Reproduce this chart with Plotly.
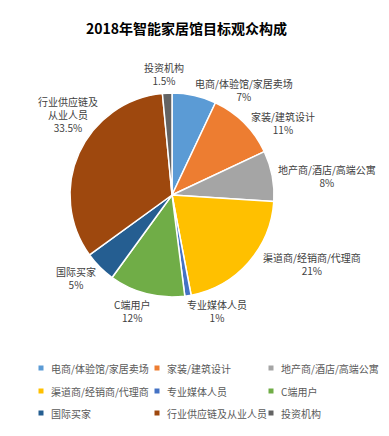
import math
import plotly.graph_objects as go

# Audience composition of the 2018 smart-home hall (percent)
categories = ["电商/体验馆/家居卖场", "家装/建筑设计", "地产商/酒店/高端公寓",
              "渠道商/经销商/代理商", "专业媒体人员", "C端用户",
              "国际买家", "行业供应链及从业人员", "投资机构"]
slice_labels = ["电商/体验馆/家居卖场", "家装/建筑设计", "地产商/酒店/高端公寓",
                "渠道商/经销商/代理商", "专业媒体人员", "C端用户",
                "国际买家", "行业供应链及<br>从业人员", "投资机构"]
shares = [7, 11, 8, 21, 1, 12, 5, 33.5, 1.5]
colors = ["#5B9BD5", "#ED7D31", "#A5A5A5", "#FFC000", "#4472C4",
          "#70AD47", "#255E91", "#9E480E", "#636363"]

# Label offsets (px) from the outer edge of each slice, at its mid-angle
label_shift = [(50, -5), (39, 0), (55, 0), (63, 2), (29, 15),
               (-15, 17), (-24, 11), (-11, -39), (-3, -19)]

W, H = 389, 436
FONT = "Noto Sans CJK SC, Microsoft YaHei, sans-serif"
DOM_X = [0.18, 0.7044]
DOM_Y = [0.3188, 0.7867]

fig = go.Figure(go.Pie(
    labels=categories,
    values=shares,
    sort=False,
    direction="clockwise",
    rotation=0,
    marker=dict(colors=colors, line=dict(color="white", width=1.5)),
    textinfo="none",
    showlegend=False,
    hoverinfo="label+value",
    domain=dict(x=DOM_X, y=DOM_Y),
))

# Pie geometry in pixels, from the domain
cx_px = (DOM_X[0] + DOM_X[1]) / 2 * W
cy_px = (1 - (DOM_Y[0] + DOM_Y[1]) / 2) * H
r_px = min((DOM_X[1] - DOM_X[0]) * W, (DOM_Y[1] - DOM_Y[0]) * H) / 2

annotations, shapes = [], []
total = sum(shares)
cum = 0.0
for lab, v, (dx, dy) in zip(slice_labels, shares, label_shift):
    mid = (cum + v / 2) / total * 2 * math.pi
    cum += v
    ex = cx_px + r_px * math.sin(mid)
    ey = cy_px - r_px * math.cos(mid)
    annotations.append(dict(
        text=f"{lab}<br>{v:g}%", xref="paper", yref="paper",
        x=ex / W, y=1 - ey / H, xshift=dx, yshift=-dy,
        xanchor="center", yanchor="middle", showarrow=False, align="center",
        font=dict(family=FONT, size=10, color="#404040")))

# Legend drawn as three columns of small squares with labels
col_x = [41, 157, 271]
row_y = [368, 391, 413]
for i, (name, c) in enumerate(zip(categories, colors)):
    lx, ly = col_x[i % 3], row_y[i // 3]
    shapes.append(dict(type="rect", xref="paper", yref="paper",
                       x0=(lx - 2.5) / W, x1=(lx + 2.5) / W,
                       y0=1 - (ly + 2.5) / H, y1=1 - (ly - 2.5) / H,
                       fillcolor=c, line=dict(width=0)))
    annotations.append(dict(text=name, xref="paper", yref="paper",
                            x=(lx + 8) / W, y=1 - ly / H,
                            xanchor="left", yanchor="middle", showarrow=False,
                            font=dict(family=FONT, size=10, color="#595959")))

annotations.append(dict(text="<b>2018年智能家居馆目标观众构成</b>",
                        xref="paper", yref="paper", x=186 / W, y=1 - 28 / H,
                        xanchor="center", yanchor="middle", showarrow=False,
                        font=dict(family=FONT, size=14, color="#000000")))

fig.update_layout(
    width=W, height=H,
    margin=dict(l=0, r=0, t=0, b=0),
    paper_bgcolor="white",
    plot_bgcolor="white",
    shapes=shapes,
    annotations=annotations,
)

fig.write_html("out.html")
